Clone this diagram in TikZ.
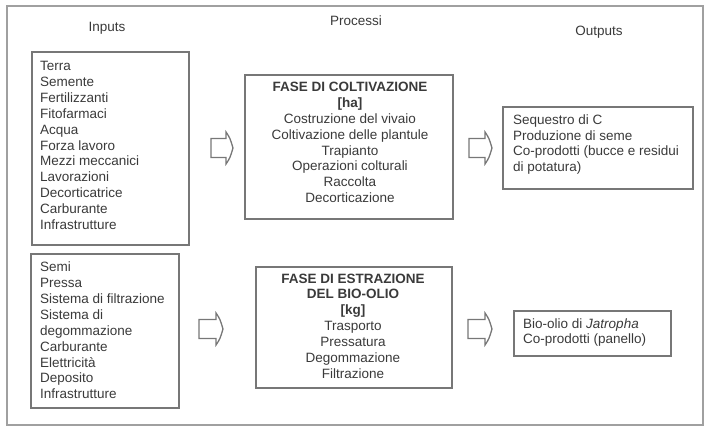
\documentclass[tikz,border=0pt]{standalone}
\usepackage{fontspec}
\setmainfont{Liberation Sans}
\definecolor{txtc}{HTML}{3A3A3A}
\definecolor{linec}{HTML}{777777}
\definecolor{framec}{HTML}{A0A0A0}
\newcommand\myblockarrow[3]{% tail x, tip x, center y
  \draw[arrowline] (#1,#3-9.5) -- (#2-7,#3-9.5) -- (#2-7,#3-16)
    .. controls (#2-3,#3-10) .. (#2,#3)
    .. controls (#2-3,#3+10) .. (#2-7,#3+16) -- (#2-7,#3+9.5) -- (#1,#3+9.5) -- cycle;}
\begin{document}
\begin{tikzpicture}[x=1pt,y=-1pt,
  txt/.style={inner sep=0pt, text=txtc, font=\fontsize{13.5}{15.85}\selectfont},
  box/.style={draw=linec, line width=1.4pt, inner sep=0pt},
  arrowline/.style={draw=linec, line width=1.3pt, line join=miter},
  hdr/.style={txt}]
\useasboundingbox (0,0) rectangle (705,428);
\draw[framec, line width=1.3pt] (7,6) rectangle (703,425);

% headers
\node[hdr] (hin) at (107,28) {Inputs};
\node[hdr] (hproc) at (356,21) {Processi};
\node[hdr] (hout) at (599,32) {Outputs};

% input box 1
\node[box, minimum width=157pt, minimum height=193pt] (in1) at (110.5,148.5) {};
\node[txt, anchor=west, align=left] (in1t) at (40,145.5) {Terra\\Semente\\Fertilizzanti\\Fitofarmaci\\Acqua\\Forza lavoro\\Mezzi meccanici\\Lavorazioni\\Decorticatrice\\Carburante\\Infrastrutture};

% process box 1
\node[box, minimum width=208pt, minimum height=144pt] (p1) at (349,147) {};
\node[txt, align=center] (p1t) at (350,142.5) {\textbf{FASE DI COLTIVAZIONE}\\\textbf{[ha]}\\Costruzione del vivaio\\Coltivazione delle plantule\\Trapianto\\Operazioni colturali\\Raccolta\\Decorticazione};

% output box 1
\node[box, minimum width=190pt, minimum height=82pt] (o1) at (598,148) {};
\node[txt, anchor=west, align=left] (o1t) at (513,144.5) {Sequestro di C\\Produzione di seme\\Co-prodotti (bucce e residui\\di potatura)};

% input box 2
\node[box, minimum width=148pt, minimum height=154pt] (in2) at (105,331) {};
\node[txt, anchor=west, align=left] (in2t) at (40,330.5) {Semi\\Pressa\\Sistema di filtrazione\\Sistema di\\degommazione\\Carburante\\Elettricità\\Deposito\\Infrastrutture};

% process box 2
\node[box, minimum width=196pt, minimum height=121pt] (p2) at (354,327.5) {};
\node[txt, align=center] (p2t) at (353,326) {\textbf{FASE DI ESTRAZIONE}\\\textbf{DEL BIO-OLIO}\\\textbf{[kg]}\\Trasporto\\Pressatura\\Degommazione\\Filtrazione};

% output box 2
\node[box, minimum width=157pt, minimum height=45pt] (o2) at (592.5,333.5) {};
\node[txt, anchor=west, align=left] (o2t) at (523,332.5) {Bio-olio di \textit{Jatropha}\\Co-prodotti (panello)};

% block arrows
\myblockarrow{211}{233}{148}
\myblockarrow{469}{492}{148}
\myblockarrow{199}{223}{329}
\myblockarrow{468}{492}{329}
\end{tikzpicture}
\end{document}
